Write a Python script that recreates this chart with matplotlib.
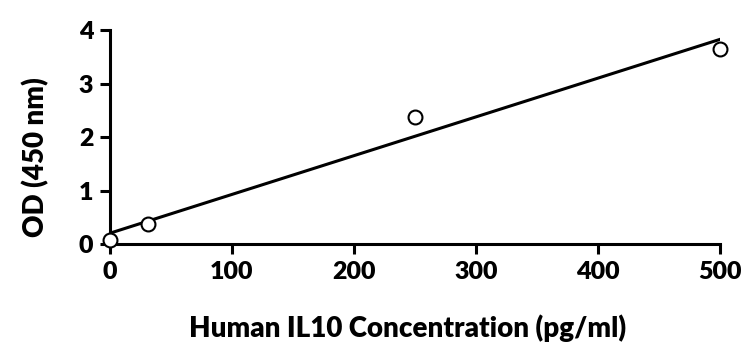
import numpy as np
import matplotlib
matplotlib.use("Agg")
import matplotlib.pyplot as plt

conc = [0, 31.25, 250, 500]
od = [0.07, 0.38, 2.37, 3.65]
xticks = [0, 100, 200, 300, 400, 500]
yticks = [0, 1, 2, 3, 4]

plt.rcParams['font.family'] = ['Lato', 'DejaVu Sans']
plt.rcParams['font.weight'] = 'heavy'

fig = plt.figure(figsize=(7.55, 3.56), dpi=100)
ax = fig.add_axes([0.1457, 0.3146, 0.8079, 0.6011])

slope, intercept = np.polyfit(conc, od, 1)
xl = np.array([min(conc), max(conc)])
ax.plot(xl, slope * xl + intercept, color='black', lw=2.2, zorder=2)
ax.plot(conc, od, 'o', ms=10, mfc='white', mec='black', mew=1.5, zorder=3, clip_on=False)

ax.set_xlim(0, 500)
ax.set_ylim(0, 4)
ax.set_xticks(xticks)
ax.set_yticks(yticks)
for s in ['top', 'right']:
    ax.spines[s].set_visible(False)
for s in ['left', 'bottom']:
    ax.spines[s].set_linewidth(2.2)
ax.tick_params(width=2.2, length=7, labelsize=18, pad=5)
for lab in ax.get_xticklabels() + ax.get_yticklabels():
    lab.set_fontweight('heavy')
ax.set_xlabel('Human IL10 Concentration (pg/ml)', fontsize=20, fontweight='heavy')
ax.set_ylabel('OD (450 nm)', fontsize=20, fontweight='heavy')
ax.xaxis.set_label_coords((408 - 110) / 610, -(328 - 244) / 214, transform=ax.transAxes)
ax.yaxis.set_label_coords(-(110 - 36) / 610, (244 - 157) / 214, transform=ax.transAxes)
ax.xaxis.label.set_va('center')
ax.yaxis.label.set_va('center')

fig.savefig('out.png', dpi=100)
